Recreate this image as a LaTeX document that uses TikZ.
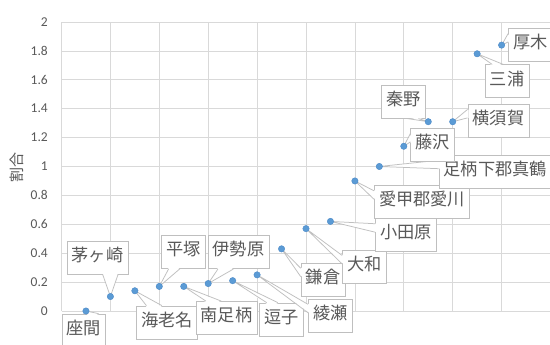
\documentclass[tikz,border=0pt]{standalone}
\usepackage{fontspec}
\newfontfamily\jpfont{Noto Sans CJK JP}
\newfontfamily\calfont{Carlito}
\usetikzlibrary{calc}
\definecolor{gridc}{HTML}{D9D9D9}
\definecolor{txtc}{HTML}{595959}
\definecolor{boxc}{HTML}{BFBFBF}
\definecolor{dotc}{HTML}{5B9BD5}
\definecolor{dotedge}{HTML}{4A89C8}
% #1 label node, #2 point, #3/#4 corner anchors of the side, #5/#6 fractions, #7 inward shift
\newcommand\wedgecall[7]{%
  \coordinate (#1-a) at ($(#1.#3)!#5!(#1.#4)$);
  \coordinate (#1-b) at ($(#1.#3)!#6!(#1.#4)$);
  \fill[white] ($(#1-a)+#7$) -- (#2) -- ($(#1-b)+#7$) -- cycle;
  \draw[wedgeline] (#1-a) -- (#2) -- (#1-b);
}
\newcommand\wtop[4]{\wedgecall{#1}{#2}{north west}{north east}{#3}{#4}{(0,-1.2)}}
\newcommand\wbot[4]{\wedgecall{#1}{#2}{south west}{south east}{#3}{#4}{(0,1.2)}}
\newcommand\wleft[4]{\wedgecall{#1}{#2}{north west}{south west}{#3}{#4}{(1.2,0)}}
\begin{document}
\begin{tikzpicture}[x=1pt,y=1pt,
  gridline/.style={draw=gridc, line width=0.75pt},
  lbl/.style={draw=boxc, line width=0.75pt, fill=white, text=txtc,
    font=\jpfont\fontsize{17.2pt}{20pt}\selectfont,
    inner xsep=4.7pt, inner ysep=0pt, minimum height=33pt,
    text height=0.88em, text depth=0.12em},
  wedgeline/.style={draw=boxc, line width=0.75pt, line join=miter},
  tick/.style={text=txtc, font=\calfont\fontsize{13.5pt}{15pt}\selectfont,
    inner sep=0pt, anchor=east},
  datadot/.style={fill=dotc, draw=dotedge, line width=0.4pt}]
\useasboundingbox (0,0) rectangle (550,345);
\fill[white] (0,0) rectangle (550,345);

\begin{scope}[shift={(61.5pt,34pt)}, x=24.45pt, y=144.5pt]
  \foreach \i in {0,2,...,18} \draw[gridline] (\i,0) -- (\i,2);
  \foreach \j in {0,...,10} \draw[gridline] (0,{\j/5}) -- (20,{\j/5});
  \foreach \j/\t in {0/0,1/0.2,2/0.4,3/0.6,4/0.8,5/1,6/1.2,7/1.4,8/1.6,9/1.8,10/2}
    \node[tick] (tick\j) at ([xshift=-13.5pt]0,{\j/5}) {\t};
  \coordinate (p1) at (1,0.00);
  \coordinate (p2) at (2,0.10);
  \coordinate (p3) at (3,0.14);
  \coordinate (p4) at (4,0.17);
  \coordinate (p5) at (5,0.17);
  \coordinate (p6) at (6,0.19);
  \coordinate (p7) at (7,0.21);
  \coordinate (p8) at (8,0.25);
  \coordinate (p9) at (9,0.43);
  \coordinate (p10) at (10,0.57);
  \coordinate (p11) at (11,0.62);
  \coordinate (p12) at (12,0.90);
  \coordinate (p13) at (13,1.00);
  \coordinate (p14) at (14,1.14);
  \coordinate (p15) at (15,1.31);
  \coordinate (p16) at (16,1.31);
  \coordinate (p17) at (17,1.78);
  \coordinate (p18) at (18,1.84);
\end{scope}

\node[text=txtc, font=\jpfont\fontsize{15pt}{17pt}\selectfont, rotate=90, inner sep=0pt] (ytitle) at (17,177) {割合};

\node[lbl] (L1) at (83.8,14.5) {座間}; \wtop{L1}{p1}{0.5833}{0.8333}
\node[lbl] (L2) at (97.5,87.5) {茅ヶ崎}; \wbot{L2}{p2}{0.5833}{0.8333}
\node[lbl] (L3) at (167,22.5) {海老名}; \wtop{L3}{p3}{0.1667}{0.4167}
\node[lbl] (L4) at (183.5,93) {平塚}; \wbot{L4}{p4}{0.1667}{0.4167}
\node[lbl] (L5) at (226.5,27) {南足柄}; \wtop{L5}{p5}{0.1667}{0.4167}
\node[lbl] (L6) at (238.5,92.8) {伊勢原}; \wbot{L6}{p6}{0.1667}{0.4167}
\node[lbl] (L7) at (281.5,25.5) {逗子}; \wtop{L7}{p7}{0.1667}{0.4167}
\node[lbl] (L8) at (330.3,29.4) {綾瀬}; \wleft{L8}{p8}{0.1667}{0.4167}
\node[lbl] (L9) at (323,65.5) {鎌倉}; \wleft{L9}{p9}{0.1667}{0.4167}
\node[lbl] (L10) at (364.4,78.3) {大和}; \wleft{L10}{p10}{0.1667}{0.4167}
\node[lbl] (L11) at (406,110) {小田原}; \wleft{L11}{p11}{0.1667}{0.4167}
\node[lbl] (L12) at (422,143) {愛甲郡愛川}; \wleft{L12}{p12}{0.1667}{0.4167}
\node[lbl] (L13) at (495.3,173.5) {足柄下郡真鶴}; \wleft{L13}{p13}{0.1667}{0.4167}
\node[lbl] (L14) at (432.7,200.3) {藤沢}; \wleft{L14}{p14}{0.1667}{0.4167}
\node[lbl] (L15) at (403.6,243.3) {秦野}; \wbot{L15}{p15}{0.5833}{0.8333}
\node[lbl] (L16) at (498.4,224.3) {横須賀}; \wleft{L16}{p16}{0.1667}{0.4167}
\node[lbl] (L17) at (507,263.7) {三浦}; \wtop{L17}{p17}{0.1667}{0.4167}
\node[lbl] (L18) at (530.5,300.3) {厚木}; \wleft{L18}{p18}{0.1667}{0.4167}

\foreach \k in {1,...,18} \draw[datadot] (p\k) circle (3.2pt);
\end{tikzpicture}
\end{document}
